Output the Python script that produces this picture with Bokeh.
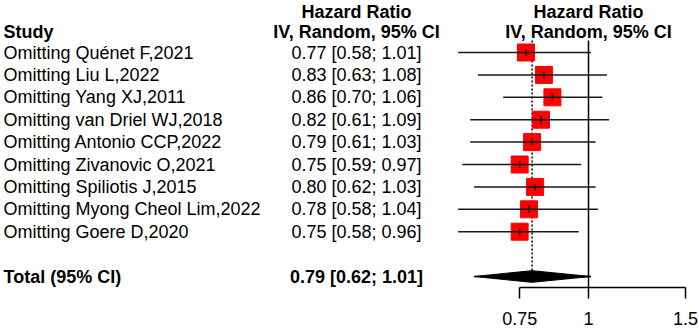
import numpy as np
from bokeh.plotting import figure
from bokeh.models import Range1d, FixedTicker, ColumnDataSource
from bokeh.core.properties import value
from bokeh.embed import file_html
from bokeh.resources import INLINE

# ---------------- data ----------------
studies = [
    "Omitting Quénet F,2021",
    "Omitting Liu L,2022",
    "Omitting Yang XJ,2011",
    "Omitting van Driel WJ,2018",
    "Omitting Antonio CCP,2022",
    "Omitting Zivanovic O,2021",
    "Omitting Spiliotis J,2015",
    "Omitting Myong Cheol Lim,2022",
    "Omitting Goere D,2020",
]
hr = [0.77, 0.83, 0.86, 0.82, 0.79, 0.75, 0.80, 0.78, 0.75]
lo = [0.58, 0.63, 0.70, 0.61, 0.61, 0.59, 0.62, 0.58, 0.58]
hi = [1.01, 1.08, 1.06, 1.09, 1.03, 0.97, 1.03, 1.04, 0.96]
total_hr, total_lo, total_hi = 0.79, 0.62, 1.01
tick_values = [0.75, 1, 1.5]
tick_labels = ["0.75", "1", "1.5"]
header_top = "Hazard Ratio"
header_sub = "IV, Random, 95% CI"
study_header = "Study"
total_label = "Total (95% CI)"

# ---------------- layout ----------------
W, H = 699, 331
AXIS_H = 44
FRAME_H = H - AXIS_H
PX_ONE = 588.0      # canvas px where HR = 1
K = 239.3           # px per ln unit
Y0, DY = 52.0, 22.4 # first row centre and row spacing (px)
FONT = value("Liberation Sans")
FS = value("18px")


def x_at(px):
    return float(np.exp((px - PX_ONE) / K))


def row_at(py):
    return 1 + (py - Y0) / DY


rows = list(range(1, len(studies) + 1))
total_row = len(studies) + 2
hr_text = [f"{h:.2f} [{l:.2f}; {u:.2f}]" for h, l, u in zip(hr, lo, hi)]
total_text = f"{total_hr:.2f} [{total_lo:.2f}; {total_hi:.2f}]"

p = figure(
    width=W, height=H,
    x_axis_type="log",
    x_range=Range1d(x_at(0), x_at(W)),
    y_range=Range1d(row_at(FRAME_H), row_at(0)),
    x_axis_location="below", y_axis_location=None,
    toolbar_location=None, output_backend="svg",
    min_border_left=0, min_border_right=0, min_border_top=0,
    min_border_bottom=AXIS_H,
)
p.outline_line_color = None
p.xgrid.grid_line_color = None
p.ygrid.grid_line_color = None
p.background_fill_color = "white"
p.border_fill_color = "white"

ax = p.xaxis[0]
ax.ticker = FixedTicker(ticks=tick_values, minor_ticks=[])
ax.bounds = (min(tick_values), max(tick_values))
ax.major_label_overrides = {float(v): s for v, s in zip(tick_values, tick_labels)}
ax.axis_line_color = "black"
ax.axis_line_width = 1.5
ax.major_tick_line_color = "black"
ax.major_tick_line_width = 1.5
ax.major_tick_out = 11
ax.major_tick_in = 0
ax.minor_tick_out = 0
ax.minor_tick_in = 0
ax.major_label_standoff = 13
ax.major_label_text_font = "Liberation Sans"
ax.major_label_text_font_size = "18px"
ax.major_label_text_color = "black"

top_line = row_at(40)

# reference lines
p.segment(x0=[1], y0=[top_line], x1=[1], y1=[row_at(FRAME_H)],
          line_color="black", line_width=1.5)
p.segment(x0=[total_hr], y0=[top_line], x1=[total_hr], y1=[total_row],
          line_color="black", line_width=1.5, line_dash="2 2")

# study squares and CIs
src = ColumnDataSource(dict(study=studies, hr=hr, lo=lo, hi=hi, row=rows, txt=hr_text))
p.scatter("hr", "row", source=src, marker="square", size=17,
          fill_color="#FF0000", line_color="#FF0000")
p.segment("lo", "row", "hi", "row", source=src, line_color="#1a1a1a", line_width=1.5)
p.scatter("hr", "row", source=src, marker="dash", angle=np.pi / 2, size=7,
          line_color="#1a1a1a", line_width=1.5)

# total diamond
half = 0.26
p.patch([total_lo, total_hr, total_hi, total_hr],
        [total_row, total_row - half, total_row, total_row + half],
        fill_color="black", line_color="black", line_width=1)
p.segment([total_lo], [total_row], [total_hi], [total_row], line_color="black", line_width=1.5)

# text columns
x_left = x_at(3)
x_hr = x_at(356)
r_h1 = row_at(11)
r_h2 = row_at(31.5)

p.text(x=[x_left] * len(studies), y=rows, text=studies, text_font=FONT, text_font_size=FS,
       text_align="left", text_baseline="middle", text_color="black")
p.text(x=[x_hr] * len(studies), y=rows, text=hr_text, text_font=FONT, text_font_size=FS,
       text_align="center", text_baseline="middle", text_color="black")

p.text(x=[x_left], y=[total_row], text=[total_label], text_font=FONT, text_font_size=FS,
       text_font_style="bold", text_align="left", text_baseline="middle", text_color="black")
p.text(x=[x_hr], y=[total_row], text=[total_text], text_font=FONT, text_font_size=FS,
       text_font_style="bold", text_align="center", text_baseline="middle", text_color="black")

p.text(x=[x_left], y=[r_h2], text=[study_header], text_font=FONT, text_font_size=FS,
       text_font_style="bold", text_align="left", text_baseline="middle", text_color="black")
p.text(x=[x_hr, 1], y=[r_h1, r_h1], text=[header_top, header_top], text_font=FONT,
       text_font_size=FS, text_font_style="bold", text_align="center",
       text_baseline="middle", text_color="black")
p.text(x=[x_hr, 1], y=[r_h2, r_h2], text=[header_sub, header_sub], text_font=FONT,
       text_font_size=FS, text_font_style="bold", text_align="center",
       text_baseline="middle", text_color="black")

open("out.html", "w").write(file_html(p, INLINE))
